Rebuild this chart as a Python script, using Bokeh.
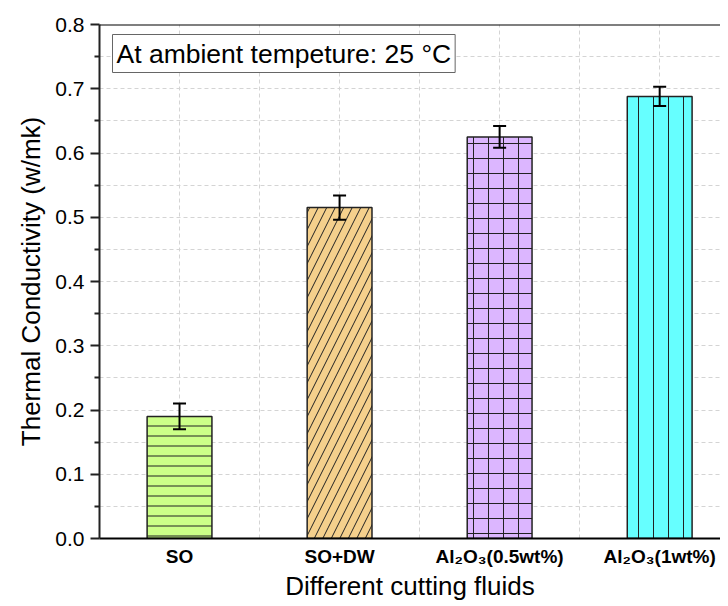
from bokeh.plotting import figure
from bokeh.models import (ColumnDataSource, FixedTicker, Whisker, TeeHead, Label, Span,
                          PrintfTickFormatter)
from bokeh.embed import file_html
from bokeh.resources import INLINE

categories = ["SO", "SO+DW", "Al\u2082O\u2083(0.5wt%)", "Al\u2082O\u2083(1wt%)"]
values = [0.19, 0.515, 0.625, 0.688]
errors = [0.02, 0.019, 0.017, 0.015]
fill_colors = ["#ccff88", "#f5d08c", "#dcb6ff", "#66ffff"]
hatches = ["-", "/", "+", "|"]
hatch_scales = [10, 17, 15, 15]
y_ticks = [0.0, 0.1, 0.2, 0.3, 0.4, 0.5, 0.6, 0.7, 0.8]

xs = [i + 1 for i in range(len(categories))]
src = ColumnDataSource(dict(
    x=xs, top=values,
    upper=[v + e for v, e in zip(values, errors)],
    lower=[v - e for v, e in zip(values, errors)],
    color=fill_colors, hatch=hatches, hscale=hatch_scales,
))

p = figure(width=720, height=604, output_backend="svg", toolbar_location=None,
           x_range=(0.5, 4.38), y_range=(0.0, 0.8),
           min_border_left=99, min_border_top=24, min_border_right=0, min_border_bottom=66)
p.outline_line_color = None
p.background_fill_color = "white"

p.vbar(x="x", top="top", width=0.405, source=src, fill_color="color",
       line_color="#222222", line_width=1.5,
       hatch_pattern="hatch", hatch_scale="hscale", hatch_color="#222222", hatch_weight=1)

whisk = Whisker(source=src, base="x", upper="upper", lower="lower",
                line_color="black", line_width=2, level="overlay",
                upper_head=TeeHead(size=13, line_width=2, line_color="black"),
                lower_head=TeeHead(size=13, line_width=2, line_color="black"))
p.add_layout(whisk)

p.add_layout(Span(location=0.8, dimension="width", line_color="black", line_width=2))

# grids
p.xgrid.ticker = FixedTicker(ticks=[0.5 + 0.5 * i for i in range(9)])
p.ygrid.ticker = FixedTicker(ticks=[0.05 * i for i in range(17)])
for g in (p.xgrid, p.ygrid):
    g.grid_line_color = "#d4d4d4"
    g.grid_line_dash = "4 3"
    g.grid_line_width = 1

# y axis
ya = p.yaxis[0]
ya.ticker = FixedTicker(ticks=y_ticks, minor_ticks=[0.05 + 0.1 * i for i in range(8)])
ya.formatter = PrintfTickFormatter(format="%.1f")
ya.axis_line_color = "#222222"
ya.axis_line_width = 2
ya.major_tick_out = 9
ya.major_tick_in = 0
ya.minor_tick_out = 5
ya.minor_tick_in = 0
ya.major_tick_line_width = 2
ya.minor_tick_line_width = 2
ya.major_tick_line_color = "#222222"
ya.minor_tick_line_color = "#222222"
ya.major_label_text_font = "Liberation Sans"
ya.major_label_text_font_size = "21px"
ya.major_label_text_color = "black"
ya.major_label_standoff = 6
ya.axis_label = "Thermal Conductivity (w/mk)"
ya.axis_label_text_font = "Liberation Sans"
ya.axis_label_text_font_size = "26px"
ya.axis_label_text_font_style = "normal"
ya.axis_label_text_color = "black"
ya.axis_label_standoff = 6

# x axis
xa = p.xaxis[0]
xa.ticker = FixedTicker(ticks=xs)
xa.major_label_overrides = {x: c for x, c in zip(xs, categories)}
xa.axis_line_color = "black"
xa.axis_line_width = 2
xa.major_tick_out = 0
xa.major_tick_in = 0
xa.minor_tick_out = 0
xa.minor_tick_in = 0
xa.major_label_text_font = "Liberation Sans"
xa.major_label_text_font_size = "19px"
xa.major_label_text_font_style = "bold"
xa.major_label_text_color = "black"
xa.major_label_standoff = 7
xa.axis_label = "Different cutting fluids"
xa.axis_label_text_font = "Liberation Sans"
xa.axis_label_text_font_size = "26px"
xa.axis_label_text_font_style = "normal"
xa.axis_label_text_color = "black"
xa.axis_label_standoff = 1

note = Label(x=13, y=466, x_units="screen", y_units="screen",
             text="At ambient tempeture: 25 \u00b0C",
             text_font="Liberation Sans", text_font_size="26.5px", text_color="black",
             padding=4, border_line_color="#666666", border_line_width=1,
             background_fill_color="white", anchor="bottom_left")
p.add_layout(note)

open("out.html", "w").write(file_html(p, INLINE))
